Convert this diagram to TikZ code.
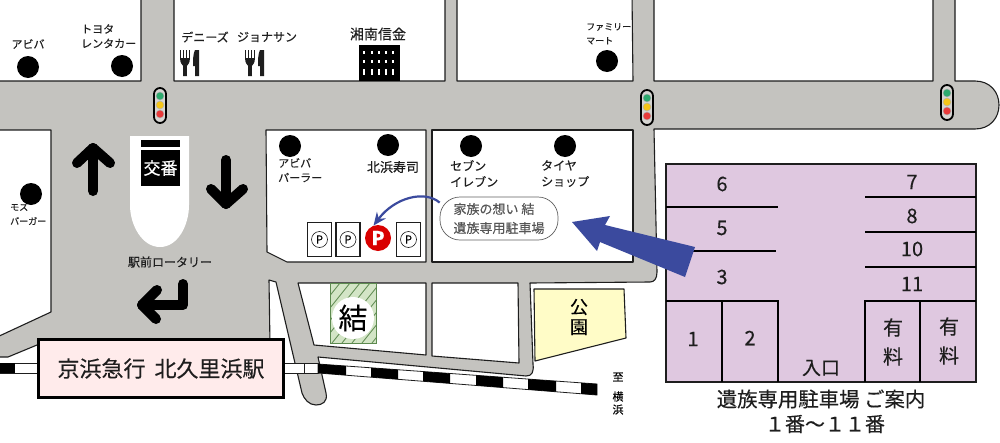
\documentclass[tikz,border=0pt]{standalone}
\usepackage{fontspec}
\setmainfont{Noto Sans CJK JP}[FakeBold=0.25]
\usetikzlibrary{arrows.meta, positioning}
\definecolor{roadgray}{HTML}{C4C3BF}
\definecolor{lotpurple}{HTML}{DFC8E0}
\definecolor{arrowblue}{HTML}{3B4A9E}
\definecolor{inkblack}{HTML}{1E1E1E}
\definecolor{lampgreen}{HTML}{2DAA6E}
\definecolor{lampyellow}{HTML}{F5C518}
\definecolor{lampred}{HTML}{E83A3A}
\definecolor{yuigreen}{HTML}{D3E5C6}
\definecolor{yuistripe}{HTML}{5D8A50}
\tikzset{
    cutlery/.pic={
        \draw[inkblack, line width=1.1] (0.5,0) -- (0.5,9) (3.5,0) -- (3.5,9) (6.5,0) -- (6.5,9) (9.5,0) -- (9.5,9);
        \fill[inkblack] (0,8) .. controls (0,14) and (3,15) .. (3.2,16) -- (3,26) -- (7,26) -- (6.8,16) .. controls (7,15) and (10,14) .. (10,8) -- cycle;
        \fill[inkblack] (15,0) .. controls (13,4) and (13,10) .. (13,16) -- (15,16) -- (15,26) -- (19,26) -- (19,0) -- cycle;
    }
}

\begin{document}
\begin{tikzpicture}[
    x=1pt, y=-1pt,
    block/.style={draw=inkblack, line width=1.1pt, fill=white, line join=round},
    road/.style={draw=inkblack, line width=1.1pt, fill=roadgray, line join=round},
    shop/.style={circle, fill=black, minimum size=22pt, inner sep=0pt},
    shoplabel/.style={inner sep=0pt, align=left, text=inkblack, font=\fontsize{11}{14.5}\selectfont},
    smalllabel/.style={inner sep=0pt, align=left, text=inkblack, font=\fontsize{9}{14}\selectfont},
    pbox/.style={draw=inkblack, line width=1.2pt, fill=white, minimum width=24pt, minimum height=34pt, inner sep=0pt},
    pmark/.style={circle, draw=inkblack, line width=0.6pt, minimum size=16pt, inner sep=0pt, font=\fontsize{11}{11}\selectfont},
    bigarrow/.style={line width=10pt, line cap=round, line join=round, draw=black},
    lotline/.style={draw=black, line width=1.2pt},
    lotnum/.style={inner sep=0pt, font=\fontsize{20}{20}\selectfont, text=inkblack},
    lamp/.style={circle, draw=white!70!black, line width=0.5pt, minimum size=8pt, inner sep=0pt}
]
\useasboundingbox (0,0) rectangle (1000,442);
\clip (0,0) rectangle (1000,442);
\fill[white] (0,0) rectangle (1000,442);

% Roads
\draw[road] (-5,81) -- (141,81) -- (141,-5) -- (174,-5) -- (174,81) -- (445,81) -- (445,-5) -- (457,-5) -- (457,81)
    -- (633,81) -- (632,-5) -- (654,-5) -- (654,81) -- (933,81) -- (933,-5) -- (955,-5) -- (955,81) -- (975,81)
    .. controls (990,81) and (999,92) .. (999,105) .. controls (999,118) and (990,129) .. (975,129)
    -- (654,129) -- (657,272) .. controls (657,279) and (654,282) .. (650,282) -- (530,283) -- (533,364)
    .. controls (534,372) and (532,376) .. (526,376) -- (318,357) -- (326,393)
    .. controls (328,402) and (322,405) .. (316,405) .. controls (309,405) and (304,399) .. (302,393)
    -- (276,282) -- (269,280) -- (270,345) -- (37,345) -- (8,357) -- (-5,357) -- cycle;

% Blocks
\draw[block] (-5,130) -- (51,130) -- (51,312) -- (-5,338) -- cycle;
\draw[block] (266,130) -- (426,130) -- (426,262) -- (287,262) -- (267,252) -- cycle;
\draw[block] (432,130) -- (633,130) -- (633,262) -- (432,262) -- cycle;
\draw[block] (298,283) -- (426,283) -- (426,355) -- (314,345) -- cycle;
\draw[block] (432,283) -- (518,283) -- (519,363) -- (432,356) -- cycle;
\draw[block, fill=yellow!22!white] (534,289) -- (624,289) -- (626,338) -- (535,361) -- cycle;

% Railway
\draw[draw=inkblack, fill=white, line width=0.8pt] (-5,363) rectangle (40,373);
\draw[draw=inkblack, fill=white, line width=0.8pt] (280,363) rectangle (318,373);
\draw[inkblack, line width=1pt] (304,363) -- (304,373);
\fill[black] (-5,363) rectangle (15,373);
\draw[draw=inkblack, fill=white, line width=0.8pt] (318,364) -- (597,384) -- (597,395) -- (318,373) -- cycle;
\foreach \xa/\xb in {318/346, 371/398, 423/450, 476/503, 528/556, 581/597}
{
    \fill[black] (\xa,{364+0.0717*(\xa-318)}) -- (\xb,{364+0.0717*(\xb-318)}) -- (\xb,{373+0.0789*(\xb-318)}) -- (\xa,{373+0.0789*(\xa-318)}) -- cycle;
}

% Station
\node[draw=black, line width=3pt, fill=red!8!white, minimum width=245pt, minimum height=58pt, inner sep=0pt, text=inkblack, font=\fontsize{22}{22}\selectfont] (station) at (161,368.5) {京浜急行\hspace{9pt}北久里浜駅};

% Police box
\fill[white] (130,136) -- (189,136) -- (189,205) .. controls (189,225) and (178,247) .. (160,247) .. controls (142,247) and (130,225) .. (130,205) -- cycle;
\fill[black] (141,140) rectangle (180,147);
\node[fill=black, text=white, minimum width=39pt, minimum height=36pt, inner sep=0pt, font=\fontsize{17}{17}\selectfont] (koban) at (160.5,168) {交番};

% Direction arrows
\draw[bigarrow] (93,191) -- (93,148);
\draw[bigarrow] (77,163) -- (93,148) -- (110,163);
\draw[bigarrow] (226,160) -- (226,204);
\draw[bigarrow] (211,189) -- (226,204) -- (243,189);
\draw[bigarrow] (183,284) -- (183,305) -- (142,305);
\draw[bigarrow] (157,290) -- (142,305) -- (156,319);

% Traffic lights
\foreach \lx/\ly in {160/105, 647/107, 947/102}
{
    \draw[draw=black, line width=1.8pt, fill=roadgray!70!white, rounded corners=6pt] (\lx-6,\ly-17) rectangle (\lx+6,\ly+18);
    \node[lamp, fill=lampgreen] at (\lx,\ly-9) {};
    \node[lamp, fill=lampyellow] at (\lx,\ly) {};
    \node[lamp, fill=lampred] at (\lx,\ly+9) {};
}

% Shops
\foreach \sname/\sx/\sy in {abiba/28/67, toyota/122/66, moss/31/194, famima/607/61, parlor/290/146, sushi/388/145, seven/471/146, tire/565/146}
{
    \node[shop] (\sname) at (\sx,\sy) {};
}
\node[shoplabel] (abibalabel) at (28,44) {アビバ};
\node[shoplabel, anchor=north west] (toyotalabel) at (81,24) {トヨタ\\レンタカー};
\node[shoplabel, font=\fontsize{12}{12}\selectfont] (dennys) at (205,37) {デニーズ};
\node[shoplabel, font=\fontsize{12}{12}\selectfont] (jonathan) at (267,37) {ジョナサン};
\pic at (180,50) {cutlery};
\pic at (245,50) {cutlery};
\node[shoplabel, font=\fontsize{14}{14}\selectfont] (shonan) at (378,34) {湘南信金};
\fill[black] (359,45) rectangle (400,81);
\foreach \wx in {364,372,379,386,393}
{
    \fill[white] (\wx-1,50.5) rectangle (\wx+1,53.5);
    \fill[white] (\wx-1,59.5) rectangle (\wx+1,62.5);
    \fill[white] (\wx-1,69) rectangle (\wx+1,75);
}
\node[smalllabel, anchor=north west] (famimalabel) at (586,23) {ファミリー\\マート};
\node[smalllabel, anchor=north west] (mosslabel) at (10,204) {モス\\バーガー};
\node[shoplabel, anchor=north west] (parlorlabel) at (278,158) {アビバ\\パーラー};
\node[shoplabel, font=\fontsize{13}{13}\selectfont] (sushilabel) at (393,167) {北浜寿司};
\node[shoplabel, anchor=north west, font=\fontsize{12}{16}\selectfont] (sevenlabel) at (450,160) {セブン\\イレブン};
\node[shoplabel, anchor=north west, font=\fontsize{12}{16}\selectfont] (tirelabel) at (541,160) {タイヤ\\ショップ};
\node[shoplabel, font=\fontsize{12}{12}\selectfont] (rotary) at (170,262) {駅前ロータリー};

% Parking marks
\node[pbox] (p1) at (319.5,239.5) {};
\node[pbox] (p2) at (348,239.5) {};
\node[pbox] (p3) at (408.5,239.5) {};
\node[pmark] at (p1) {P};
\node[pmark] at (p2) {P};
\node[pmark] at (p3) {P};
\node[circle, fill=red!85!black, text=white, minimum size=26pt, inner sep=0pt, font=\fontsize{19}{19}\selectfont\bfseries] (redp) at (378,238) {P};

% Family parking note
\node[draw=inkblack!70, line width=0.7pt, fill=white, rounded corners=20pt, minimum width=118pt, minimum height=43pt, inner sep=0pt, align=left, text=inkblack!75, font=\fontsize{13}{19}\selectfont] (note) at (499,218.5) {家族の想い 結\\遺族専用駐車場};
\draw[arrowblue, line width=2.2pt, -{Stealth[length=13pt, width=11pt]}] (note.165) .. controls (425,190) and (395,197) .. (redp.110);

% Yui lot
\fill[yuigreen] (330,283) rectangle (376,343);
\begin{scope}
\clip (330,283) rectangle (376,343);
\foreach \hx in {330,340,...,420}
{
    \draw[yuistripe, line width=0.8pt] (\hx,283) -- (\hx-48,343);
}
\end{scope}
\draw[yuistripe, line width=0.5pt] (330,283) rectangle (376,343);
\node[circle, fill=white, minimum size=42pt, inner sep=0pt, text=black, font=\fontsize{29}{29}\selectfont] (yui) at (353,318) {結};

% Park
\node[inner sep=0pt, align=center, text=black, font=\fontsize{18}{20}\selectfont] (park) at (579,317) {公\\園};
\node[inner sep=0pt, align=center, text=black, font=\fontsize{11}{14}\selectfont] (itaru) at (618,377) {至};
\node[inner sep=0pt, align=center, text=black, font=\fontsize{11}{13}\selectfont] (yokohama) at (618,403) {横\\浜};

% Parking lot
\draw[draw=inkblack, fill=lotpurple, line width=1.2pt] (666,164) rectangle (976,382);
\draw[lotline] (666,207) -- (778,207);
\draw[lotline] (666,251) -- (776,251);
\draw[lotline] (666,301) -- (778,301) -- (778,382);
\draw[lotline] (722,301) -- (722,382);
\draw[lotline] (865,197) -- (976,197);
\draw[lotline] (865,232) -- (976,232);
\draw[lotline] (865,267) -- (976,267);
\draw[lotline] (865,382) -- (865,301) -- (976,301);
\draw[lotline] (920,301) -- (920,382);
\foreach \lname/\lx/\ly in {6/722/184, 5/722/228, 3/722/277, 7/912/182, 8/912/216, 10/912/249, 11/912/284}
{
    \node[lotnum] (lot\lname) at (\lx,\ly) {\lname};
}
\node[lotnum] (lot1) at (693,339) {1};
\node[lotnum] (lot2) at (750,338) {2};
\node[lotnum, font=\fontsize{19}{19}\selectfont] (entrance) at (821,368) {入口};
\node[lotnum, align=center, font=\fontsize{20}{29}\selectfont] (paid1) at (893,342) {有\\料};
\node[lotnum, align=center, font=\fontsize{20}{29}\selectfont] (paid2) at (949,341) {有\\料};
\node[lotnum, font=\fontsize{20.4}{20.4}\selectfont] (lottitle) at (821,399) {遺族専用駐車場 ご案内};
\node[lotnum, font=\fontsize{20}{20}\selectfont] (lotrange) at (825,424) {１番～１１番};

% Big arrow
\fill[arrowblue] (572,222) -- (610,216) -- (605,225) -- (695,247) -- (685,277) -- (600,242) -- (597,251) -- cycle;

\end{tikzpicture}
\end{document}
